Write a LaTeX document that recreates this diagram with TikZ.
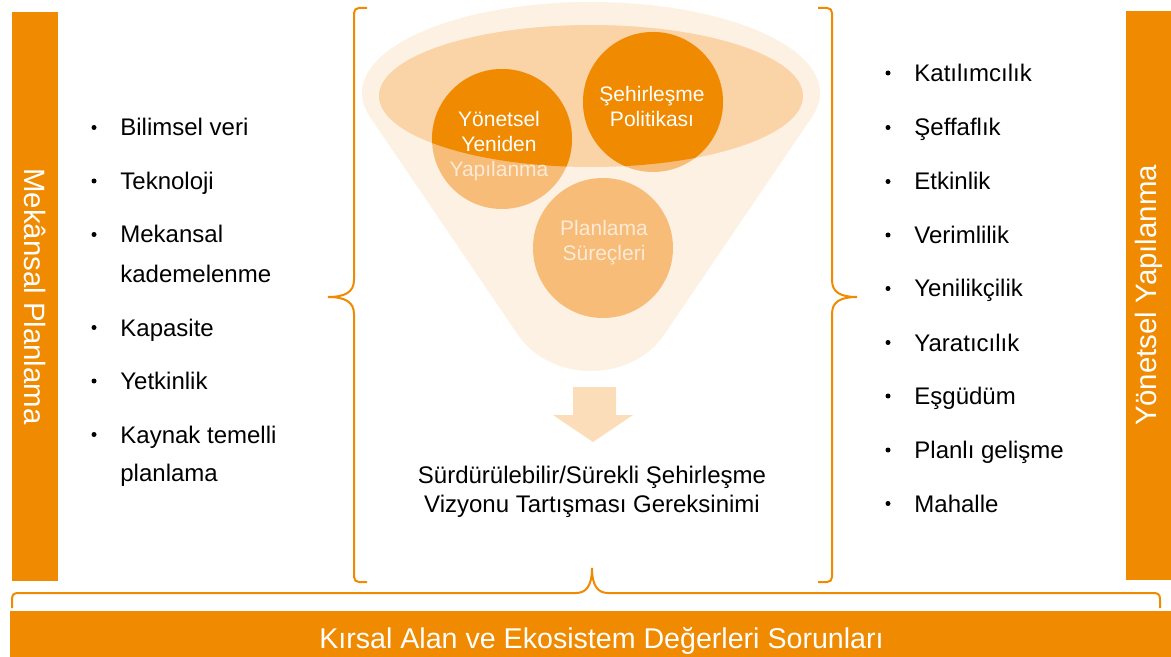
\documentclass[tikz,border=0pt]{standalone}
\usepackage{fontspec}
\setmainfont{Liberation Sans}
\usetikzlibrary{positioning}

\definecolor{barorange}{HTML}{F08A00}
\definecolor{funnelpale}{HTML}{FDF1E4}
\definecolor{rimorange}{HTML}{FAD3A6}
\definecolor{bubblelight}{HTML}{F6BC78}
\definecolor{arrowpale}{HTML}{FCDDBA}
\definecolor{textpale}{HTML}{FDEAD6}

\tikzset{
  bar/.style={fill=barorange, text=white, inner sep=0pt, font=\fontsize{14.7}{18}\selectfont},
  item/.style={anchor=base west, inner sep=0pt, font=\fontsize{12}{14}\selectfont},
  dot/.style={circle, fill=black, inner sep=0pt, minimum size=2.5pt},
  bubble/.style={circle, fill=bubblelight, inner sep=0pt, minimum size=70pt},
  bubbletext/.style={text=white, align=center, inner sep=0pt, font=\fontsize{10.5}{12.5}\selectfont},
  brace/.style={draw=barorange, line width=1pt}
}

\begin{document}
\begin{tikzpicture}[x=0.5pt, y=-0.5pt]
    \useasboundingbox (0,0) rectangle (1171,657);

    % bars
    \node[bar, rotate=-90, minimum width=284.5pt, minimum height=23pt] (spatial) at (35,296.5) {Mekânsal Planlama};
    \node[bar, rotate=90, minimum width=284.5pt, minimum height=22.5pt] (admin) at (1148.5,295.5) {Yönetsel Yapılanma};
    \node[bar, minimum width=580.5pt, minimum height=23pt] (rural) at (590.5,634) {};
    \node[bar, fill=none, anchor=base, font=\fontsize{14.3}{17}\selectfont] (rurallabel) at (601.5,648) {Kırsal Alan ve Ekosistem Değerleri Sorunları};

    % funnel
    \fill[funnelpale] (591,93) ellipse [x radius=229, y radius=91];
    \fill[funnelpale] (370,117) -- (812,117) -- (664,335) .. controls (631,383) and (551,383) .. (518,335) -- cycle;
    \fill[rimorange] (591,96) ellipse [x radius=212, y radius=71];

    \node[bubble] (yonetsel) at (502,139) {};
    \node[bubble] (sehir) at (653,102) {};
    \node[bubble] (surec) at (603,248) {};
    \begin{scope}
        \clip (591,96) ellipse [x radius=212, y radius=71];
        \fill[barorange] (yonetsel) circle [radius=70];
        \fill[barorange] (sehir) circle [radius=70];
    \end{scope}
    \node[bubbletext] (yonetsellabel) at (499,146) {Yönetsel\\Yeniden\\\textcolor{textpale}{Yapılanma}};
    \node[bubbletext] (sehirlabel) at (652,106) {Şehirleşme\\Politikası};
    \node[bubbletext, text=textpale] (sureclabel) at (604,243) {Planlama\\Süreçleri};

    \fill[arrowpale] (573,387) -- (616,387) -- (616,415) -- (633,415) -- (593,442) -- (553,415) -- (573,415) -- cycle;

    \node[align=center, inner sep=0pt, font=\fontsize{12}{14.5}\selectfont] (vision) at (592,492) {Sürdürülebilir/Sürekli Şehirleşme\\Vizyonu Tartışması Gereksinimi};

    % braces
    \draw[brace] (367,8) -- (359,8) .. controls (356,8) and (354,10) .. (354,13) -- (354,280)
        .. controls (354,292) and (345,297) .. (328,297) .. controls (345,297) and (354,302) .. (354,314)
        -- (354,577) .. controls (354,580) and (356,582) .. (359,582) -- (367,582);
    \draw[brace] (818,8) -- (827,8) .. controls (830,8) and (832,10) .. (832,13) -- (832,280)
        .. controls (832,292) and (840,297) .. (857,297) .. controls (840,297) and (832,302) .. (832,314)
        -- (832,577) .. controls (832,580) and (830,582) .. (827,582) -- (818,582);
    \draw[brace] (12,608) -- (12,599) .. controls (12,595) and (14,593) .. (18,593) -- (576,593)
        .. controls (586,593) and (592,586) .. (592,568) .. controls (592,586) and (598,593) .. (608,593)
        -- (1154,593) .. controls (1158,593) and (1160,595) .. (1160,599) -- (1160,608);

    % lists
    \foreach \n/\y/\t in {1/136/Bilimsel veri, 2/189.5/Teknoloji, 3/243/Mekansal, 4/336/Kapasite, 5/389.5/Yetkinlik, 6/443/Kaynak temelli}{
        \node[item] (left\n) at (120,\y) {\t};
        \node[dot] (leftdot\n) at (94,\y-8.5) {};
    }
    \node[item] (left3b) at (120,282.5) {kademelenme};
    \node[item] (left6b) at (120,481.5) {planlama};

    \foreach \n/\y/\t in {1/81.5/Katılımcılık, 2/136/Şeffaflık, 3/190/Etkinlik, 4/243.5/Verimlilik, 5/297/Yenilikçilik, 6/351/Yaratıcılık, 7/404.5/Eşgüdüm, 8/458.5/Planlı gelişme, 9/512/Mahalle}{
        \node[item] (right\n) at (914,\y) {\t};
        \node[dot] (rightdot\n) at (888,\y-8.5) {};
    }

\end{tikzpicture}
\end{document}
